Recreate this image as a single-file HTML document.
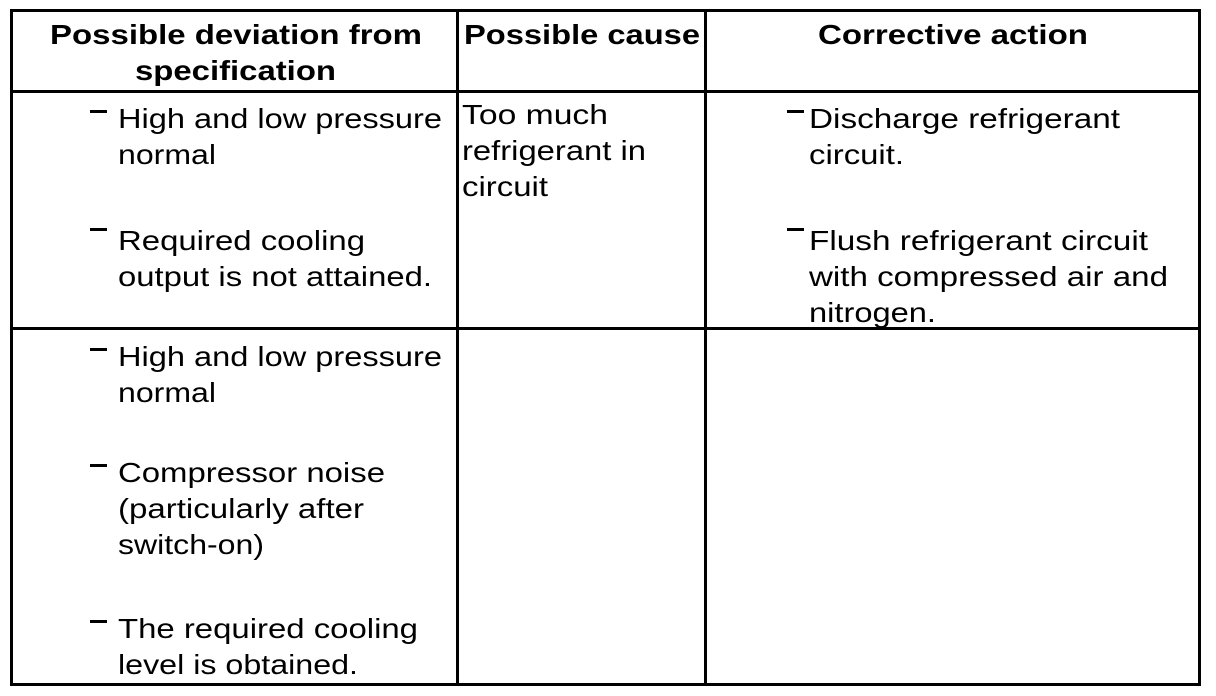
<!DOCTYPE html>
<html><head><meta charset="utf-8"><style>
html,body{margin:0;padding:0;background:#fff;}
svg{display:block;}
text{font-family:"Liberation Sans",Arial,sans-serif;font-size:28px;fill:#000;}
.b{font-weight:bold;}
</style></head><body>
<svg width="1216" height="696" viewBox="0 0 1216 696" xmlns="http://www.w3.org/2000/svg">
<rect x="0" y="0" width="1216" height="696" fill="#fff"/>
<g fill="#000">
<rect x="10" y="9" width="1191" height="3"/>
<rect x="10" y="683" width="1191" height="3"/>
<rect x="10" y="9" width="3" height="677"/>
<rect x="1198" y="9" width="3" height="677"/>
<rect x="10" y="90" width="1191" height="3"/>
<rect x="10" y="327" width="1191" height="3"/>
<rect x="456" y="9" width="3" height="677"/>
<rect x="704" y="9" width="3" height="677"/>
<!-- dashes -->
<rect x="90" y="110" width="17" height="3"/>
<rect x="90" y="228" width="17" height="3"/>
<rect x="90" y="348" width="17" height="3"/>
<rect x="90" y="464" width="17" height="3"/>
<rect x="90" y="620" width="17" height="3"/>
<rect x="787" y="110" width="17" height="3"/>
<rect x="787" y="228" width="17" height="3"/>
</g>
<text class="b" x="50" y="44" textLength="372" lengthAdjust="spacingAndGlyphs">Possible deviation from</text>
<text class="b" x="135" y="80" textLength="201" lengthAdjust="spacingAndGlyphs">specification</text>
<text class="b" x="464" y="44" textLength="236" lengthAdjust="spacingAndGlyphs">Possible cause</text>
<text class="b" x="818" y="44" textLength="270" lengthAdjust="spacingAndGlyphs">Corrective action</text>

<text x="118" y="128" textLength="324" lengthAdjust="spacingAndGlyphs">High and low pressure</text>
<text x="118" y="164" textLength="98" lengthAdjust="spacingAndGlyphs">normal</text>
<text x="118" y="250" textLength="247" lengthAdjust="spacingAndGlyphs">Required cooling</text>
<text x="118" y="286" textLength="314" lengthAdjust="spacingAndGlyphs">output is not attained.</text>

<text x="462" y="124" textLength="146" lengthAdjust="spacingAndGlyphs">Too much</text>
<text x="462" y="160" textLength="184" lengthAdjust="spacingAndGlyphs">refrigerant in</text>
<text x="462" y="196" textLength="86" lengthAdjust="spacingAndGlyphs">circuit</text>

<text x="809" y="128" textLength="311" lengthAdjust="spacingAndGlyphs">Discharge refrigerant</text>
<text x="809" y="164" textLength="95" lengthAdjust="spacingAndGlyphs">circuit.</text>
<text x="809" y="250" textLength="339" lengthAdjust="spacingAndGlyphs">Flush refrigerant circuit</text>
<text x="809" y="286" textLength="359" lengthAdjust="spacingAndGlyphs">with compressed air and</text>
<text x="809" y="322" textLength="127" lengthAdjust="spacingAndGlyphs">nitrogen.</text>

<text x="118" y="366" textLength="324" lengthAdjust="spacingAndGlyphs">High and low pressure</text>
<text x="118" y="402" textLength="98" lengthAdjust="spacingAndGlyphs">normal</text>
<text x="118" y="482" textLength="267" lengthAdjust="spacingAndGlyphs">Compressor noise</text>
<text x="118" y="518" textLength="246" lengthAdjust="spacingAndGlyphs">(particularly after</text>
<text x="118" y="554" textLength="146" lengthAdjust="spacingAndGlyphs">switch-on)</text>
<text x="118" y="638" textLength="300" lengthAdjust="spacingAndGlyphs">The required cooling</text>
<text x="118" y="674" textLength="240" lengthAdjust="spacingAndGlyphs">level is obtained.</text>
</svg>
</body></html>
